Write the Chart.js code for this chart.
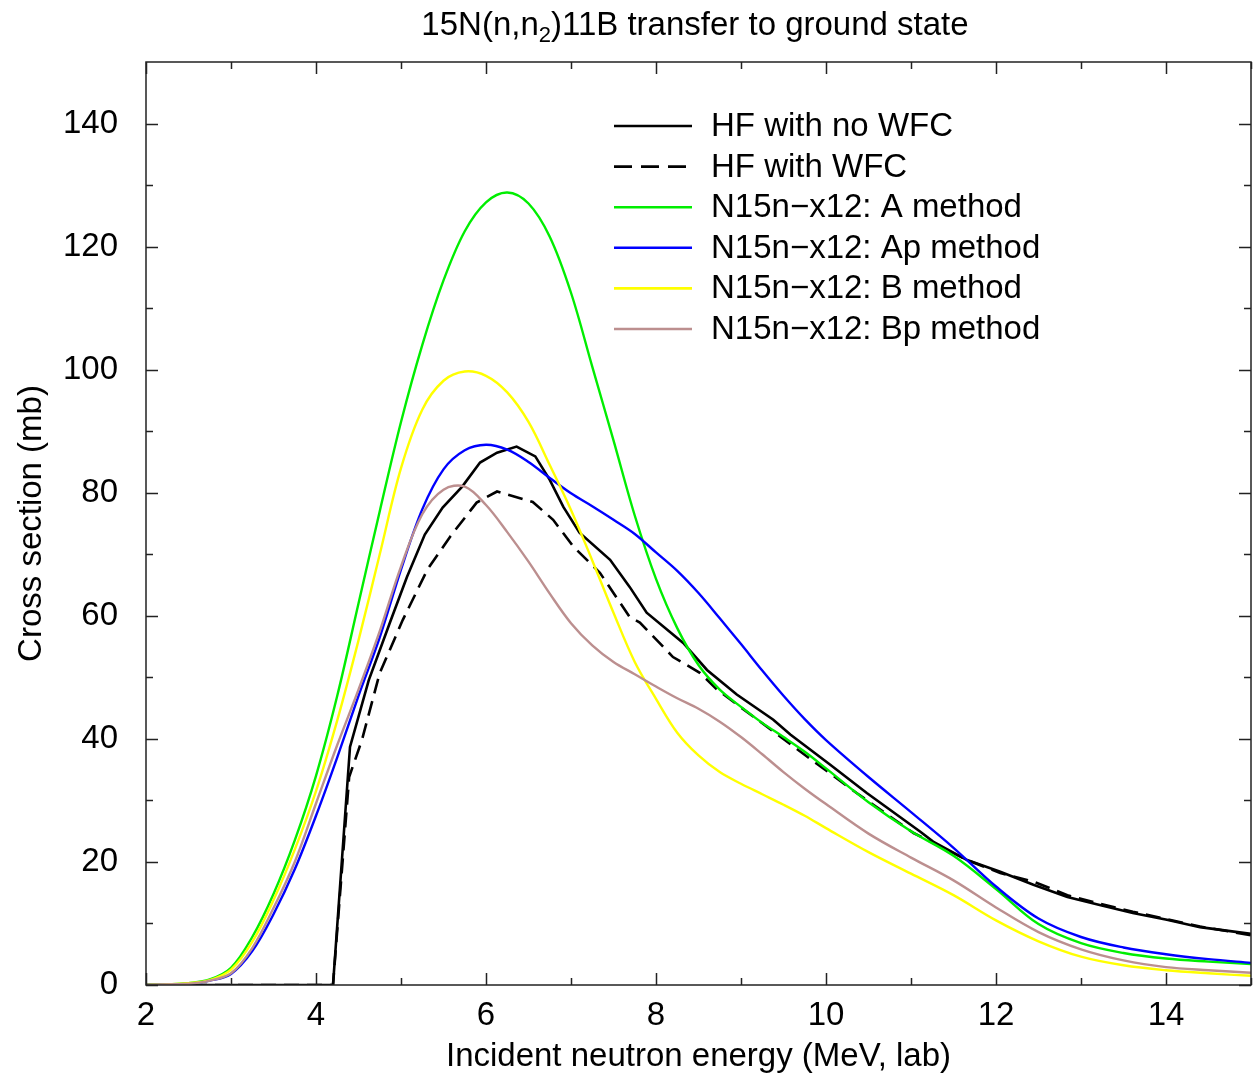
<!DOCTYPE html>
<html>
<head>
<meta charset="utf-8">
<script src="https://cdn.jsdelivr.net/npm/chart.js@4.4.0/dist/chart.umd.min.js"></script>
<style>
  html, body { margin: 0; padding: 0; background: #fff; }
  #wrap { width: 1253px; height: 1074px; }
</style>
</head>
<body>
<div id="wrap"><canvas id="chart" width="1253" height="1074"></canvas></div>
<script>
// text
const titleParts = ['15N(n,n', '2', ')11B transfer to ground state'];
const xAxisTitle = 'Incident neutron energy (MeV, lab)';
const yAxisTitle = 'Cross section (mb)';
const seriesLabels = [
  'HF with no WFC',
  'HF with WFC',
  'N15n\u2212x12: A method',
  'N15n\u2212x12: Ap method',
  'N15n\u2212x12: B method',
  'N15n\u2212x12: Bp method'
];

// axes
const xTicks = [2, 4, 6, 8, 10, 12, 14];
const xMinorTicks = [3, 5, 7, 9, 11, 13, 15];
const yTicks = [0, 20, 40, 60, 80, 100, 120, 140];
const yMinorTicks = [10, 30, 50, 70, 90, 110, 130];

// HF curves (piecewise linear, MeV / mb)
const hfEnergy = [2, 4.2, 4.4, 4.62, 4.87, 5.07, 5.28, 5.49, 5.72, 5.93, 6.13, 6.36, 6.58, 6.75, 6.91, 7.1, 7.46, 7.69, 7.89, 8.32, 8.6, 8.95, 9.38, 9.58, 10.05, 10.48, 11.11, 11.26, 11.66, 12.05, 12.44, 12.84, 13.22, 13.61, 14.01, 14.4, 15];
const hfNoWfc = [0, 0, 38.7, 49.5, 58.9, 66.3, 73.2, 77.6, 81.0, 84.9, 86.5, 87.5, 85.9, 82.1, 77.7, 73.5, 69.1, 64.7, 60.5, 55.6, 51.2, 47.2, 43.1, 40.7, 35.8, 31.2, 24.9, 23.3, 20.3, 18.4, 16.3, 14.3, 13.0, 11.7, 10.6, 9.4, 8.3];
const hfWfcEnergy = [2, 4.2, 4.39, 4.54, 4.75, 5.02, 5.31, 5.58, 5.89, 6.13, 6.55, 6.79, 7.03, 7.34, 7.69, 7.81, 8.2, 8.52, 8.72, 8.99, 9.78, 10.36, 11.03, 11.66, 12.05, 12.44, 12.84, 13.22, 13.61, 14.01, 14.4, 15];
const hfWfc = [0, 0, 33.8, 39.8, 50.7, 59.3, 67.5, 72.9, 78.4, 80.2, 78.5, 75.6, 71.2, 67.0, 59.8, 58.9, 53.3, 50.7, 48.0, 45.2, 37.1, 31.2, 24.7, 20.3, 18.2, 16.8, 14.6, 13.2, 11.9, 10.7, 9.5, 8.1];

// N15n-x12 curves on a common energy grid
const energyGrid = [2, 2.25, 2.5, 2.75, 3, 3.25, 3.5, 3.75, 4, 4.25, 4.5, 4.75, 5, 5.25, 5.5, 5.75, 6, 6.25, 6.5, 6.75, 7, 7.25, 7.5, 7.75, 8, 8.25, 8.5, 8.75, 9, 9.25, 9.5, 9.75, 10, 10.5, 11, 11.5, 12, 12.5, 13, 13.5, 14, 14.5, 15];
const methodA  = [0, 0.1, 0.3, 0.9, 2.8, 7.8, 14.8, 23.5, 34.0, 47.0, 62.0, 77.0, 91.5, 104.0, 114.5, 122.5, 127.2, 128.8, 127.0, 121.6, 112.5, 100.5, 88.5, 76.3, 66.0, 58.0, 52.0, 48.0, 45.2, 42.6, 40.3, 37.9, 35.2, 29.7, 25.0, 21.0, 15.6, 9.9, 6.8, 5.2, 4.3, 3.8, 3.4];
const methodAp = [0, 0.1, 0.2, 0.7, 1.8, 5.5, 11.5, 18.8, 27.5, 37.0, 47.0, 56.5, 67.5, 77.3, 83.8, 86.9, 87.8, 87.0, 85.0, 82.4, 79.9, 77.8, 75.6, 73.3, 70.3, 67.3, 63.7, 59.6, 55.4, 51.1, 47.0, 43.2, 39.8, 33.8, 28.1, 22.3, 16.0, 10.8, 7.8, 6.1, 5.0, 4.2, 3.6];
const methodB  = [0, 0.1, 0.3, 0.8, 2.5, 7.0, 13.8, 22.0, 31.5, 43.0, 56.0, 70.0, 84.0, 93.5, 98.2, 99.7, 99.0, 96.3, 91.5, 84.5, 77.2, 69.0, 60.5, 52.5, 46.5, 41.0, 37.3, 34.6, 32.7, 31.0, 29.3, 27.5, 25.5, 21.6, 18.1, 14.6, 10.5, 7.1, 4.6, 3.2, 2.4, 1.9, 1.5];
const methodBp = [0, 0.1, 0.2, 0.7, 1.9, 6.0, 12.5, 20.0, 29.5, 39.0, 48.0, 57.5, 68.0, 76.5, 80.5, 81.0, 78.0, 73.6, 68.8, 63.6, 58.8, 55.2, 52.5, 50.5, 48.5, 46.6, 44.9, 42.8, 40.3, 37.5, 34.6, 31.9, 29.4, 24.6, 20.7, 17.0, 12.6, 8.6, 5.8, 4.0, 2.9, 2.4, 2.0];

const seriesColors = ['#000000', '#000000', '#00ee00', '#0000ff', '#ffff00', '#bc8f8f'];
const FONT = "'Liberation Sans', Arial, Helvetica, sans-serif";

const toPoints = (xs, ys) => xs.map((x, i) => ({ x, y: ys[i] }));

const seriesData = [
  toPoints(hfEnergy, hfNoWfc),
  toPoints(hfWfcEnergy, hfWfc),
  toPoints(energyGrid, methodA),
  toPoints(energyGrid, methodAp),
  toPoints(energyGrid, methodB),
  toPoints(energyGrid, methodBp)
];

const datasets = seriesData.map((data, i) => ({
  label: seriesLabels[i],
  data,
  borderColor: seriesColors[i],
  borderWidth: i < 2 ? 2.6 : 2.4,
  borderDash: i === 1 ? [15, 8] : [],
  pointRadius: 0,
  fill: false,
  tension: i < 2 ? 0 : 0.35,
  order: 5 - i
}));

// frame, inward ticks, legend and title
const decorations = {
  id: 'decorations',
  afterDraw(chart) {
    const { ctx, chartArea: a, scales } = chart;
    const xs = scales.x, ys = scales.y;
    ctx.save();
    ctx.strokeStyle = '#222';
    ctx.lineWidth = 1.5;
    ctx.strokeRect(a.left, a.top, a.right - a.left, a.bottom - a.top);
    ctx.beginPath();
    const tickX = (vals, len) => vals.forEach(v => {
      const px = Math.round(xs.getPixelForValue(v)) + 0.5;
      ctx.moveTo(px, a.bottom); ctx.lineTo(px, a.bottom - len);
      ctx.moveTo(px, a.top); ctx.lineTo(px, a.top + len);
    });
    const tickY = (vals, len) => vals.forEach(v => {
      const py = Math.round(ys.getPixelForValue(v)) + 0.5;
      ctx.moveTo(a.left, py); ctx.lineTo(a.left + len, py);
      ctx.moveTo(a.right, py); ctx.lineTo(a.right - len, py);
    });
    tickX(xTicks, 12); tickX(xMinorTicks, 7);
    tickY(yTicks, 12); tickY(yMinorTicks, 7);
    ctx.stroke();

    // legend
    ctx.font = '33px ' + FONT;
    ctx.textBaseline = 'middle';
    ctx.fillStyle = '#000';
    seriesLabels.forEach((lab, i) => {
      const y = 126 + i * 40.6;
      ctx.beginPath();
      ctx.strokeStyle = seriesColors[i];
      ctx.lineWidth = 2.6;
      ctx.setLineDash(i === 1 ? [18, 9] : []);
      ctx.moveTo(614, y); ctx.lineTo(692, y);
      ctx.stroke();
      ctx.setLineDash([]);
      ctx.fillText(lab, 711, y + 1);
    });

    // title with subscript
    const big = '33px ' + FONT, small = '22px ' + FONT;
    ctx.font = big; const w0 = ctx.measureText(titleParts[0]).width;
    const w2 = ctx.measureText(titleParts[2]).width;
    ctx.font = small; const w1 = ctx.measureText(titleParts[1]).width;
    let x = 695 - (w0 + w1 + w2) / 2;
    const base = 35;
    ctx.textBaseline = 'alphabetic';
    ctx.font = big; ctx.fillText(titleParts[0], x, base); x += w0;
    ctx.font = small; ctx.fillText(titleParts[1], x, base + 7); x += w1;
    ctx.font = big; ctx.fillText(titleParts[2], x, base);
    ctx.restore();
  }
};

new Chart(document.getElementById('chart'), {
  type: 'line',
  data: { datasets },
  options: {
    responsive: false,
    animation: false,
    events: [],
    layout: { padding: { top: 62, right: 2, left: 0, bottom: 0 } },
    plugins: { legend: { display: false }, tooltip: { enabled: false }, title: { display: false } },
    scales: {
      x: {
        type: 'linear',
        min: 2, max: 15,
        grid: { display: false },
        border: { display: false },
        afterFit(scale) { scale.height = 89; },
        afterBuildTicks(scale) { scale.ticks = xTicks.map(value => ({ value })); },
        ticks: { color: '#000', font: { family: FONT, size: 33 }, padding: 3, maxRotation: 0, minRotation: 0, autoSkip: false },
        title: { display: true, text: xAxisTitle, color: '#000', font: { family: FONT, size: 33, lineHeight: 1 }, padding: { top: 0, bottom: 1 } }
      },
      y: {
        type: 'linear',
        min: 0, max: 150,
        grid: { display: false },
        border: { display: false },
        afterFit(scale) { scale.width = 146; },
        afterBuildTicks(scale) { scale.ticks = yTicks.map(value => ({ value })); },
        ticks: { color: '#000', font: { family: FONT, size: 33 }, padding: 20, autoSkip: false },
        title: { display: true, text: yAxisTitle, color: '#000', font: { family: FONT, size: 33, lineHeight: 1 }, padding: { top: 15, bottom: 0 } }
      }
    }
  },
  plugins: [decorations]
});
</script>
</body>
</html>
